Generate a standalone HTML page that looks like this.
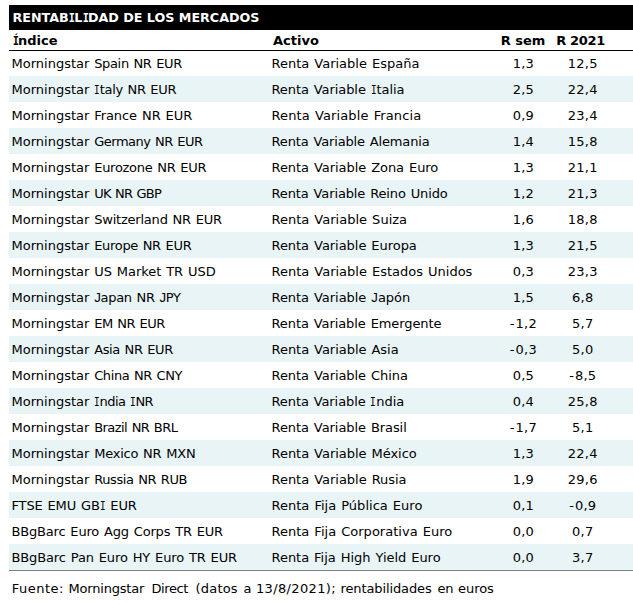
<!DOCTYPE html><html><head><meta charset="utf-8"><style>
*{margin:0;padding:0;box-sizing:border-box}
html,body{width:633px;height:606px;background:#fff;overflow:hidden}
body{position:relative;font-family:"DejaVu Sans","Liberation Sans",sans-serif;font-size:13px;color:#000}
.t{position:absolute;left:9px;top:5px;width:624px;height:25px;background:#000}
.t>span{position:absolute;left:3.5px;top:0;line-height:25px;color:#fff;font-weight:bold;font-size:12.7px;white-space:nowrap}
.h{position:absolute;left:9px;top:30px;width:624px;height:21px;border-bottom:1px solid #000}
.h>span{position:absolute;top:1px;line-height:20px;font-weight:bold;white-space:nowrap}
.h .c1{left:4px}
.h .c2{left:264px}
.r{position:absolute;left:9px;width:624px;height:26px}
.r.b{background:#e9f4f7}
.r>span{position:absolute;top:1px;line-height:26px;white-space:nowrap;word-spacing:0.9px}
.c1{left:2.5px}
.c2{left:262.5px}
.c3{left:474px;width:80px;text-align:center}
.c4{left:533px;width:80px;text-align:center}
.r .c3{left:474.4px;letter-spacing:0.25px}
.r .c4{left:533.8px;letter-spacing:0.25px}
.m{letter-spacing:1px}
.I{font-family:"DejaVu Sans Mono",monospace;display:inline-block;transform:scaleX(.8);margin:0 -1.5px 0 -0.6px}
.i{font-family:"DejaVu Sans Mono",monospace;display:inline-block;transform:scaleX(.72);margin:0 -0.8px 0 -1.15px}
.j{font-family:"Liberation Sans",sans-serif;font-size:13.2px}
.bl{position:absolute;left:9px;top:570px;width:624px;height:1px;background:#808080}
.f{position:absolute;left:0;top:579px;width:633px;height:20px;line-height:20px;white-space:nowrap}
.f>span{position:absolute;top:0}
</style></head><body>
<div class="t"><span>RENTAB<span class="I">I</span>L<span class="I">I</span>DAD DE LOS MERCADOS</span></div>
<div class="h"><span class="c1"><span class="I" style="margin-left:-1.4px">Í</span>ndice</span><span class="c2">Activo</span><span class="c3">R sem</span><span class="c4" style="letter-spacing:-0.3px;left:531.6px">R 2021</span></div>
<div class="r" style="top:50px"><span class="c1">Morningstar</span><span style="left:85.20px;letter-spacing:-0.345px">Spain NR EUR</span><span class="c2">Renta Variable España</span><span class="c3">1,3</span><span class="c4">12,5</span></div>
<div class="r b" style="top:76px"><span class="c1">Morningstar</span><span style="left:85.20px;letter-spacing:-0.327px"><span class="i">I</span>taly NR EUR</span><span class="c2" style="letter-spacing:-0.080px">Renta Variable <span class="i">I</span>talia</span><span class="c3">2,5</span><span class="c4">22,4</span></div>
<div class="r" style="top:102px"><span class="c1">Morningstar</span><span style="left:85.20px;letter-spacing:-0.067px">France NR EUR</span><span class="c2" style="letter-spacing:0.114px">Renta Variable Francia</span><span class="c3">0,9</span><span class="c4">23,4</span></div>
<div class="r b" style="top:128px"><span class="c1">Morningstar</span><span style="left:85.20px;letter-spacing:-0.492px">Germany NR EUR</span><span class="c2" style="letter-spacing:-0.145px">Renta Variable Alemania</span><span class="c3">1,4</span><span class="c4">15,8</span></div>
<div class="r" style="top:154px"><span class="c1">Morningstar</span><span style="left:85.20px;letter-spacing:-0.271px">Eurozone NR EUR</span><span class="c2" style="letter-spacing:-0.052px">Renta Variable Zona Euro</span><span class="c3">1,3</span><span class="c4">21,1</span></div>
<div class="r b" style="top:180px"><span class="c1">Morningstar</span><span style="left:85.20px;letter-spacing:-0.750px">UK NR GBP</span><span class="c2" style="letter-spacing:-0.120px">Renta Variable Reino Unido</span><span class="c3">1,2</span><span class="c4">21,3</span></div>
<div class="r" style="top:206px"><span class="c1">Morningstar</span><span style="left:85.20px;letter-spacing:-0.212px">Switzerland NR EUR</span><span class="c2" style="letter-spacing:0.011px">Renta Variable Suiza</span><span class="c3">1,6</span><span class="c4">18,8</span></div>
<div class="r b" style="top:232px"><span class="c1">Morningstar</span><span style="left:85.20px;letter-spacing:-0.317px">Europe NR EUR</span><span class="c2" style="letter-spacing:-0.040px">Renta Variable Europa</span><span class="c3">1,3</span><span class="c4">21,5</span></div>
<div class="r" style="top:258px"><span class="c1">Morningstar</span><span style="left:85.20px;letter-spacing:-0.053px">US Market TR USD</span><span class="c2">Renta Variable Estados Unidos</span><span class="c3">0,3</span><span class="c4">23,3</span></div>
<div class="r b" style="top:284px"><span class="c1">Morningstar</span><span style="left:85.20px;letter-spacing:-0.291px"><span class="j">J</span>apan NR <span class="j">J</span>PY</span><span class="c2" style="letter-spacing:-0.042px">Renta Variable <span class="j">J</span>apón</span><span class="c3">1,5</span><span class="c4">6,8</span></div>
<div class="r" style="top:310px"><span class="c1">Morningstar</span><span style="left:85.20px;letter-spacing:-0.475px">EM NR EUR</span><span class="c2" style="letter-spacing:-0.087px">Renta Variable Emergente</span><span class="c3"><span class="m">-</span>1,2</span><span class="c4">5,7</span></div>
<div class="r b" style="top:336px"><span class="c1">Morningstar</span><span style="left:85.20px;letter-spacing:-0.380px">Asia NR EUR</span><span class="c2" style="letter-spacing:-0.033px">Renta Variable Asia</span><span class="c3"><span class="m">-</span>0,3</span><span class="c4">5,0</span></div>
<div class="r" style="top:362px"><span class="c1">Morningstar</span><span style="left:85.20px;letter-spacing:-0.400px">China NR CNY</span><span class="c2" style="letter-spacing:-0.063px">Renta Variable China</span><span class="c3">0,5</span><span class="c4"><span class="m">-</span>8,5</span></div>
<div class="r b" style="top:388px"><span class="c1">Morningstar</span><span style="left:85.20px;letter-spacing:-0.525px"><span class="i">I</span>ndia <span class="i">I</span>NR</span><span class="c2" style="letter-spacing:-0.095px">Renta Variable <span class="i">I</span>ndia</span><span class="c3">0,4</span><span class="c4">25,8</span></div>
<div class="r" style="top:414px"><span class="c1">Morningstar</span><span style="left:85.20px;letter-spacing:-0.550px">Brazil NR BRL</span><span class="c2" style="letter-spacing:-0.070px">Renta Variable Brasil</span><span class="c3"><span class="m">-</span>1,7</span><span class="c4">5,1</span></div>
<div class="r b" style="top:440px"><span class="c1">Morningstar</span><span style="left:85.20px;letter-spacing:-0.217px">Mexico NR MXN</span><span class="c2" style="letter-spacing:-0.030px">Renta Variable México</span><span class="c3">1,3</span><span class="c4">22,4</span></div>
<div class="r" style="top:466px"><span class="c1">Morningstar</span><span style="left:85.20px;letter-spacing:-0.400px">Russia NR RUB</span><span class="c2" style="letter-spacing:-0.021px">Renta Variable Rusia</span><span class="c3">1,9</span><span class="c4">29,6</span></div>
<div class="r b" style="top:492px"><span class="c1" style="letter-spacing:-0.133px">FTSE EMU GB<span class="i">I</span> EUR</span><span class="c2" style="letter-spacing:0.018px">Renta Fija Pública Euro</span><span class="c3">0,1</span><span class="c4"><span class="m">-</span>0,9</span></div>
<div class="r" style="top:518px"><span class="c1" style="letter-spacing:-0.171px">BBgBarc Euro Agg Corps TR EUR</span><span class="c2" style="letter-spacing:0.015px">Renta Fija Corporativa Euro</span><span class="c3">0,0</span><span class="c4">0,7</span></div>
<div class="r b" style="top:544px"><span class="c1" style="letter-spacing:-0.120px">BBgBarc Pan Euro HY Euro TR EUR</span><span class="c2" style="letter-spacing:-0.032px">Renta Fija High Yield Euro</span><span class="c3">0,0</span><span class="c4">3,7</span></div>
<div class="bl"></div>
<div class="f"><span style="left:11.85px;letter-spacing:0.475px">Fuente:</span> <span style="left:68.50px;letter-spacing:-0.200px">Morningstar</span> <span style="left:151.50px;letter-spacing:-0.400px">Direct</span> <span style="left:195.50px;letter-spacing:0.200px">(datos</span> <span style="left:243.50px;letter-spacing:0.200px">a</span> <span style="left:256.00px;letter-spacing:0.350px">13/8/2021);</span> <span style="left:340.50px;letter-spacing:-0.108px">rentabilidades</span> <span style="left:437.50px;letter-spacing:-0.300px">en</span> <span style="left:458.00px;letter-spacing:-0.050px">euros</span></div>
</body></html>
